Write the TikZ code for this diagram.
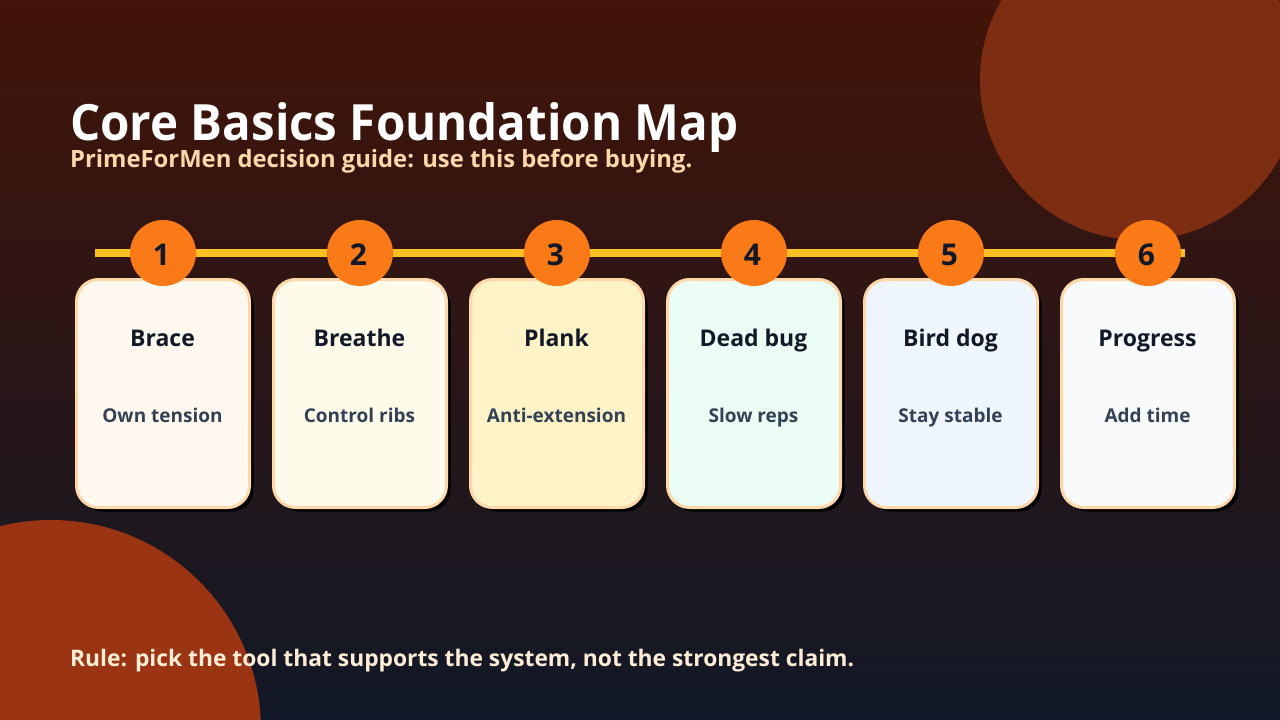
\documentclass[tikz,border=0pt]{standalone}
\usepackage{fontspec}
\setmainfont{Open Sans}
\newfontfamily\titlefont[FakeStretch=0.95]{Open Sans}
\usetikzlibrary{shadows}
\definecolor{bgtop}{HTML}{431407}
\definecolor{bgbottom}{HTML}{111827}
\definecolor{blobtop}{HTML}{7C2D12}
\definecolor{blobbottom}{HTML}{9A3412}
\definecolor{barcol}{HTML}{FBC024}
\definecolor{dotcol}{HTML}{F97A16}
\definecolor{edgecol}{HTML}{FED7AA}
\definecolor{rulecol}{HTML}{FFEDD5}
\definecolor{inkcol}{HTML}{111827}
\definecolor{subcol}{HTML}{334155}
\definecolor{cardA}{HTML}{FFF8EE}
\definecolor{cardB}{HTML}{FFFBEB}
\definecolor{cardC}{HTML}{FEF3C7}
\definecolor{cardD}{HTML}{ECFDF5}
\definecolor{cardE}{HTML}{EFF6FF}
\definecolor{cardF}{HTML}{F8FAFC}
\tikzset{
  card/.style={draw=edgecol, line width=3pt, rounded corners=22pt, minimum width=173pt, minimum height=228pt,
    drop shadow={shadow xshift=4pt, shadow yshift=-4pt, opacity=1, fill=black}},
  numdot/.style={circle, fill=dotcol, text=inkcol, minimum size=66pt, inner sep=0pt, text height=25pt, text depth=0pt,
    execute at begin node=\kern-3pt, font=\bfseries\fontsize{30}{30}\selectfont},
  cardhead/.style={anchor=base, inner sep=0pt, text=inkcol, font=\bfseries\fontsize{23}{24}\selectfont},
  cardsub/.style={anchor=base, inner sep=0pt, text=subcol, font=\bfseries\fontsize{19}{20}\selectfont},
}
\begin{document}
\begin{tikzpicture}[x=1pt, y=-1pt]
\useasboundingbox (0, 0) rectangle (1280, 720);
\clip (0, 0) rectangle (1280, 720);
\fill [top color=bgtop, bottom color=bgbottom] (0, 0) rectangle (1280, 720);
\fill [blobtop] (1140, 80) circle [radius=160];
\fill [blobbottom] (51, 730) circle [radius=210];
% heading
\node [anchor=base west, inner sep=0pt, text=white, font=\titlefont\bfseries\fontsize{50}{50}\selectfont] (title) at (70, 140) {Core Basics Foundation Map};
\node [anchor=base west, inner sep=0pt, text=edgecol, font=\bfseries\fontsize{23.8}{24}\selectfont] (subtitle) at (70, 167) {PrimeForMen decision guide: use this before buying.};
% timeline
\coordinate (barstart) at (95, 253);
\coordinate (barend) at (1185, 253);
\draw [barcol, line width=8pt] (barstart) -- (barend);
% cards
\node [card, fill=cardA] (card1) at (163, 393.5) {};
\node [card, fill=cardB] (card2) at (360, 393.5) {};
\node [card, fill=cardC] (card3) at (557, 393.5) {};
\node [card, fill=cardD] (card4) at (754, 393.5) {};
\node [card, fill=cardE] (card5) at (951, 393.5) {};
\node [card, fill=cardF] (card6) at (1148, 393.5) {};
\node [numdot] (dot1) at (163, 253) {1};
\node [numdot] (dot2) at (360, 253) {2};
\node [numdot] (dot3) at (557, 253) {3};
\node [numdot] (dot4) at (754, 253) {4};
\node [numdot] (dot5) at (951, 253) {5};
\node [numdot] (dot6) at (1148, 253) {6};
\node [cardhead] (head1) at (162.5, 346) {Brace};
\node [cardhead] (head2) at (359.5, 346) {Breathe};
\node [cardhead] (head3) at (556.5, 346) {Plank};
\node [cardhead] (head4) at (753.5, 346) {Dead bug};
\node [cardhead] (head5) at (950.5, 346) {Bird dog};
\node [cardhead] (head6) at (1147.5, 346) {Progress};
\node [cardsub] (sub1) at (162.5, 422) {Own tension};
\node [cardsub] (sub2) at (359.5, 422) {Control ribs};
\node [cardsub] (sub3) at (556.5, 422) {Anti-extension};
\node [cardsub] (sub4) at (753.5, 422) {Slow reps};
\node [cardsub] (sub5) at (950.5, 422) {Stay stable};
\node [cardsub] (sub6) at (1147.5, 422) {Add time};
% footer
\node [anchor=base west, inner sep=0pt, text=rulecol, font=\bfseries\fontsize{22.8}{24}\selectfont] (rule) at (70, 666) {Rule: pick the tool that supports the system, not the strongest claim.};
\end{tikzpicture}
\end{document}
